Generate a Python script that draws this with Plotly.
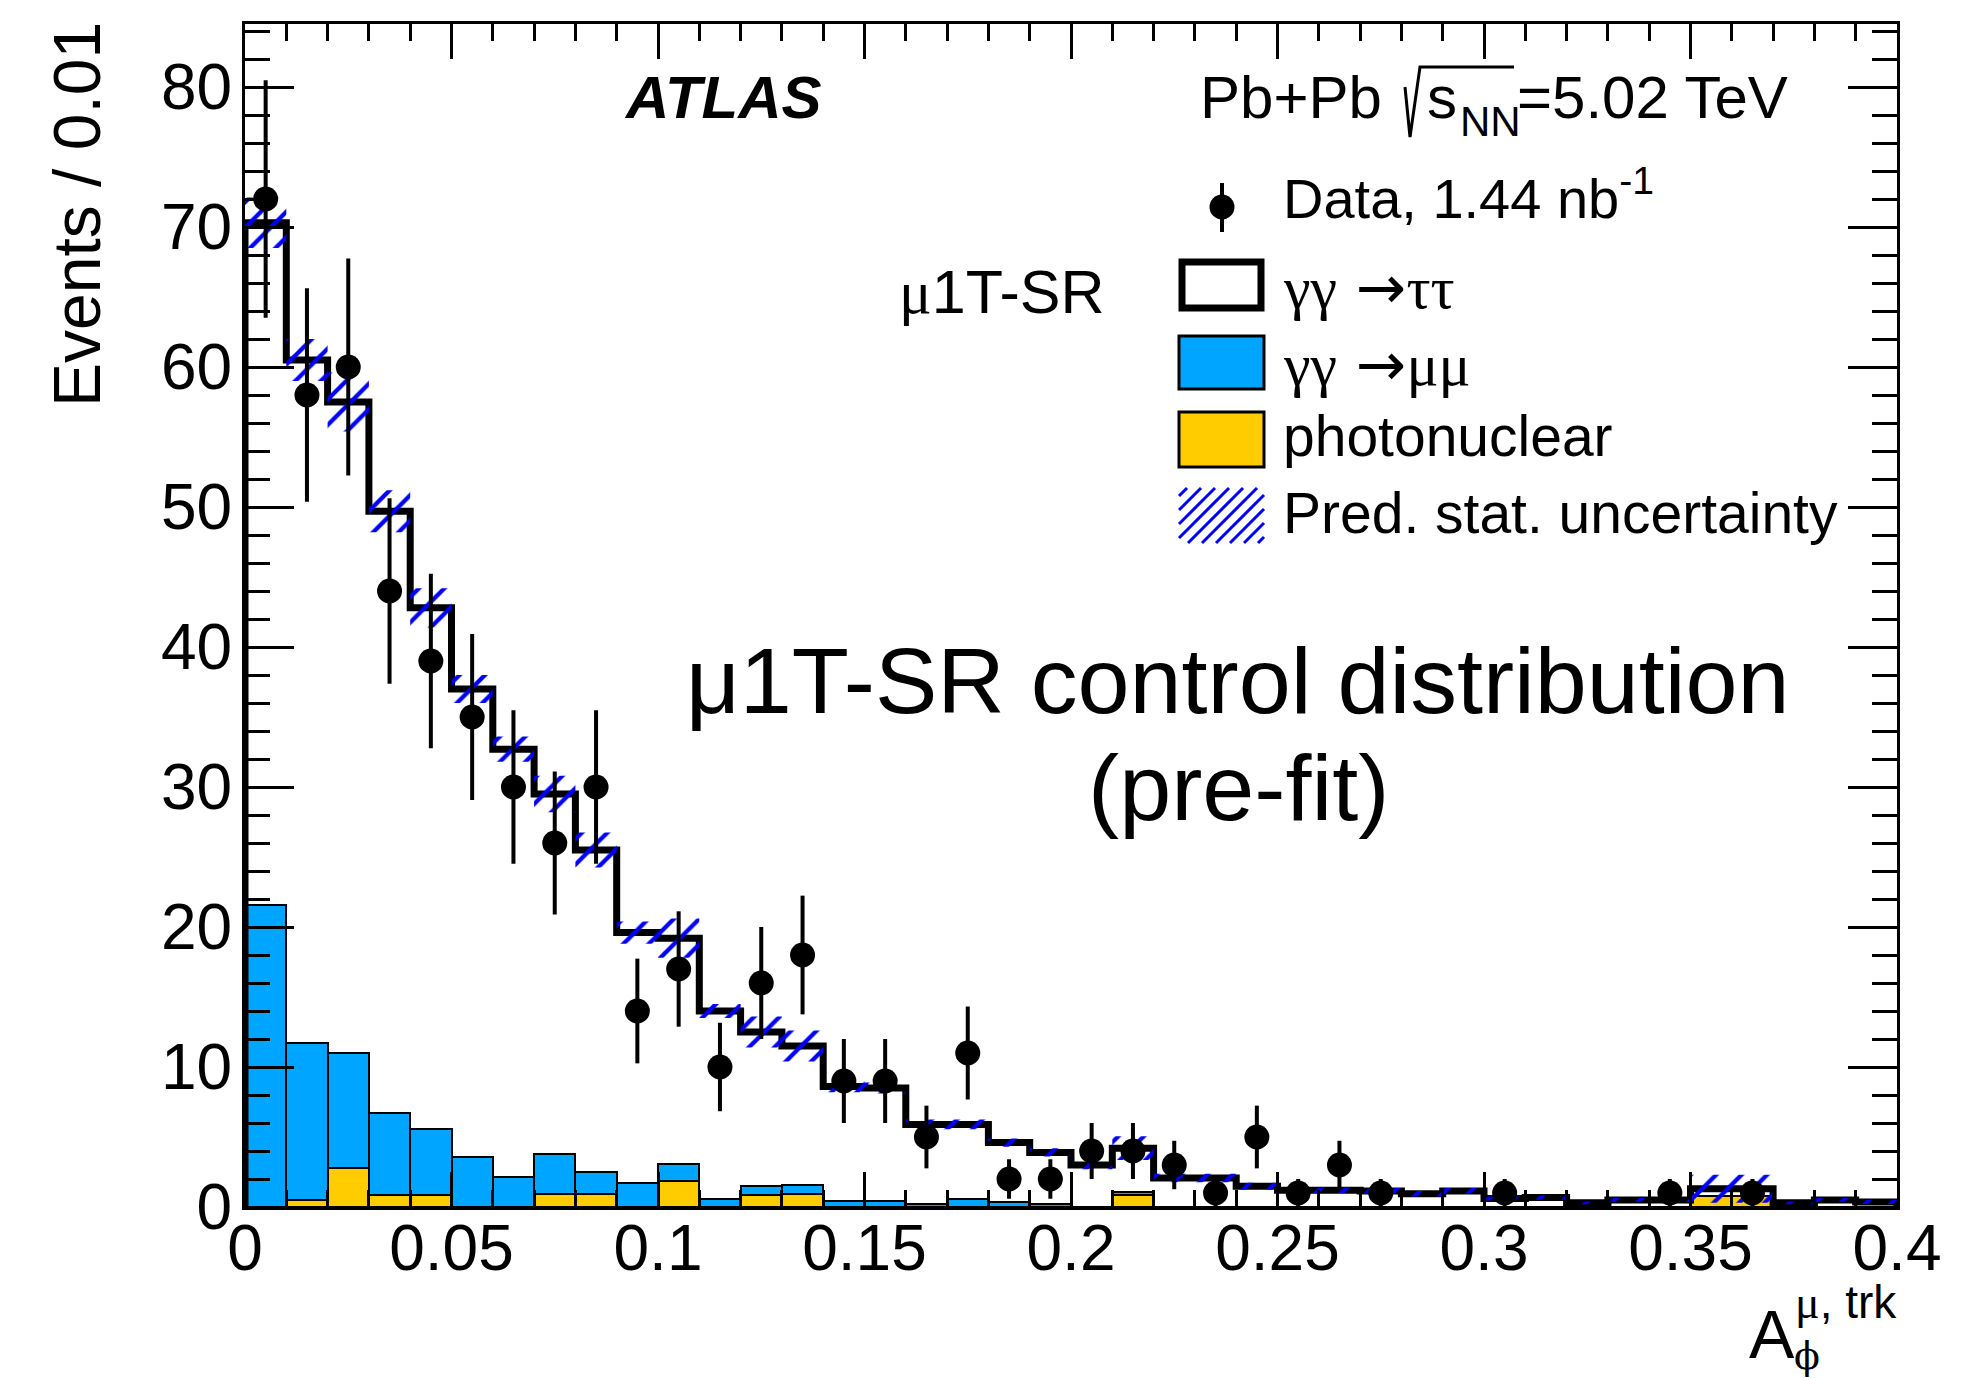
import plotly.graph_objects as go

# ---------------- data ----------------
bin_low = [0.00, 0.01, 0.02, 0.03, 0.04, 0.05, 0.06, 0.07, 0.08, 0.09,
           0.10, 0.11, 0.12, 0.13, 0.14, 0.15, 0.16, 0.17, 0.18, 0.19,
           0.20, 0.21, 0.22, 0.23, 0.24, 0.25, 0.26, 0.27, 0.28, 0.29,
           0.30, 0.31, 0.32, 0.33, 0.34, 0.35, 0.36, 0.37, 0.38, 0.39]
bin_width = 0.01

data_counts = [72, 58, 60, 44, 39, 35, 30, 26, 30, 14,
               17, 10, 16, 18, 9, 9, 5, 11, 2, 2,
               4, 4, 3, 1, 5, 1, 3, 1, 0, 0,
               1, 0, 0, 0, 1, 0, 1, 0, 0, 0]
data_err = [8.49, 7.62, 7.75, 6.63, 6.24, 5.92, 5.48, 5.10, 5.48, 3.74,
            4.12, 3.16, 4.00, 4.24, 3.00, 3.00, 2.24, 3.32, 1.41, 1.41,
            2.00, 2.00, 1.73, 1.00, 2.24, 1.00, 1.73, 1.00, 0.0, 0.0,
            1.00, 0.0, 0.0, 0.0, 1.00, 0.0, 1.00, 0.0, 0.0, 0.0]

photonuclear = [0.0, 0.5, 2.8, 0.88, 0.88, 0.0, 0.0, 0.92, 0.92, 0.0,
                1.88, 0.0, 0.88, 0.92, 0.0, 0.0, 0.0, 0.0, 0.0, 0.0,
                0.0, 0.88, 0.0, 0.0, 0.0, 0.0, 0.0, 0.0, 0.0, 0.0,
                0.0, 0.0, 0.0, 0.0, 0.0, 0.76, 0.76, 0.0, 0.0, 0.0]
mumu = [21.6, 11.2, 8.2, 5.82, 4.72, 3.6, 2.15, 2.88, 1.58, 1.7,
        1.22, 0.6, 0.62, 0.68, 0.41, 0.41, 0.19, 0.6, 0.36, 0.19,
        0.0, 0.2, 0.0, 0.0, 0.0, 0.0, 0.0, 0.0, 0.0, 0.0,
        0.0, 0.0, 0.0, 0.0, 0.0, 0.0, 0.0, 0.0, 0.0, 0.0]
tautau = [48.7, 48.8, 46.5, 43.0, 37.2, 33.4, 30.55, 25.7, 23.0, 17.9,
          16.1, 13.4, 11.0, 9.9, 8.19, 8.09, 5.71, 5.3, 4.24, 3.71,
          3.0, 3.12, 2.07, 2.07, 1.48, 1.2, 1.2, 1.15, 0.95, 1.15,
          0.6, 0.67, 0.3, 0.5, 0.5, 0.54, 0.54, 0.3, 0.5, 0.36]
stat_unc = [1.8, 1.5, 2.1, 1.5, 1.4, 1.0, 0.9, 1.3, 1.25, 0.8,
            1.4, 0.5, 1.1, 1.1, 0.4, 0.4, 0.35, 0.35, 0.3, 0.3,
            0.3, 0.85, 0.3, 0.3, 0.25, 0.2, 0.2, 0.2, 0.2, 0.2,
            0.15, 0.15, 0.1, 0.15, 0.15, 1.0, 1.0, 0.1, 0.15, 0.15]

xtick_vals = [0, 0.05, 0.1, 0.15, 0.2, 0.25, 0.3, 0.35, 0.4]
xtick_text = ["0", "0.05", "0.1", "0.15", "0.2", "0.25", "0.3", "0.35", "0.4"]
ytick_vals = [0, 10, 20, 30, 40, 50, 60, 70, 80]
ytick_text = ["0", "10", "20", "30", "40", "50", "60", "70", "80"]

# ---------------- geometry ----------------
W, H = 1988, 1378
L, R, T, B = 245, 1897, 24, 1207

def px(x):
    return (x - L) / (R - L)

def py(y):
    return (B - y) / (B - T)

FONT = "Liberation Sans, Arial, Helvetica, sans-serif"
SERIF = "Liberation Serif, DejaVu Serif, serif"
BLUE = "#00a5ff"
YELLOW = "#ffcc00"

centers = [lo + bin_width / 2 for lo in bin_low]
blue_top = [a + b for a, b in zip(photonuclear, mumu)]
total = [a + b for a, b in zip(blue_top, tautau)]

fig = go.Figure()

# stacked backgrounds
fig.add_trace(go.Bar(x=centers, y=photonuclear, width=bin_width,
                     marker=dict(color=YELLOW, line=dict(color="black", width=2)),
                     showlegend=False, hoverinfo="skip"))
fig.add_trace(go.Bar(x=centers, y=mumu, base=photonuclear, width=bin_width,
                     marker=dict(color=BLUE, line=dict(color="black", width=2)),
                     showlegend=False, hoverinfo="skip"))

# total (tautau on top of the stack) outline
step_x = [bin_low[0]] + bin_low + [bin_low[-1] + bin_width, bin_low[-1] + bin_width]
step_y = [0] + total + [total[-1], 0]
fig.add_trace(go.Scatter(x=step_x, y=step_y, mode="lines",
                         line=dict(color="black", width=7, shape="hv"),
                         showlegend=False, hoverinfo="skip"))

# hatched stat. uncertainty band
hx, hy = [], []
for lo, t, u in zip(bin_low, total, stat_unc):
    hi = lo + bin_width
    hx += [lo, hi, hi, lo, lo, None]
    hy += [t - u, t - u, t + u, t + u, t - u, None]
fig.add_trace(go.Scatter(x=hx, y=hy, mode="lines", fill="toself",
                         fillcolor="rgba(0,0,0,0)",
                         fillpattern=dict(shape="/", fgcolor="#0000ff", fgopacity=1,
                                          bgcolor="rgba(0,0,0,0)",
                                          size=18, solidity=0.24),
                         line=dict(width=0), showlegend=False, hoverinfo="skip"))

# data points
dx = [c for c, n in zip(centers, data_counts) if n > 0]
dy = [n for n in data_counts if n > 0]
de = [e for e, n in zip(data_err, data_counts) if n > 0]
fig.add_trace(go.Scatter(x=dx, y=dy, mode="markers",
                         marker=dict(color="black", size=25, symbol="circle"),
                         error_y=dict(type="data", array=de, visible=True,
                                      color="black", thickness=4, width=0),
                         showlegend=False, hoverinfo="skip"))

# ---------------- decorations (legend, labels) ----------------
shapes = []
annotations = []

def text(s, x, y, size, xanchor="left", font=FONT, angle=0, color="black"):
    annotations.append(dict(text=s, x=px(x), y=py(y), xref="paper", yref="paper",
                            xanchor=xanchor, yanchor="middle", showarrow=False,
                            textangle=angle,
                            font=dict(family=font, size=size, color=color)))

# legend swatches
bx0, bx1 = 1179, 1264
# data marker
shapes.append(dict(type="line", xref="paper", yref="paper",
                   x0=px(1222), x1=px(1222), y0=py(183), y1=py(232),
                   line=dict(color="black", width=4)))
shapes.append(dict(type="circle", xref="paper", yref="paper",
                   x0=px(1209.5), x1=px(1234.5), y0=py(219.5), y1=py(194.5),
                   fillcolor="black", line=dict(color="black", width=0)))
# tautau
shapes.append(dict(type="rect", xref="paper", yref="paper",
                   x0=px(bx0 + 3), x1=px(bx1 - 3), y0=py(259 + 3), y1=py(311 - 3),
                   fillcolor="white", line=dict(color="black", width=7)))
# mumu
shapes.append(dict(type="rect", xref="paper", yref="paper",
                   x0=px(bx0), x1=px(bx1), y0=py(336), y1=py(389),
                   fillcolor=BLUE, line=dict(color="black", width=3)))
# photonuclear
shapes.append(dict(type="rect", xref="paper", yref="paper",
                   x0=px(bx0), x1=px(bx1), y0=py(412), y1=py(467),
                   fillcolor=YELLOW, line=dict(color="black", width=3)))
# hatch swatch
hy0, hy1 = 488, 543
c = bx0 + hy0 + 8
while c < bx1 + hy1:
    xa = max(bx0, c - hy1)
    xb = min(bx1, c - hy0)
    if xb > xa:
        shapes.append(dict(type="line", xref="paper", yref="paper",
                           x0=px(xa), y0=py(c - xa), x1=px(xb), y1=py(c - xb),
                           line=dict(color="#0000ff", width=3)))
    c += 14

# sqrt sign
shapes.append(dict(type="path", xref="paper", yref="paper",
                   path=f"M {px(1405)},{py(87)} L {px(1410)},{py(137)} "
                        f"L {px(1420)},{py(67)} L {px(1514)},{py(67)}",
                   line=dict(color="black", width=3)))

text("<b><i>ATLAS</i></b>", 622, 97, 60)
text("Pb+Pb", 1198, 97, 60)
text("s", 1425, 97, 60)
text("NN", 1458, 122, 42)
text("=5.02 TeV", 1515, 97, 60)

ARROW = '<span style="font-family:DejaVu Sans"> →</span>'
text("Data, 1.44 nb<sup>-1</sup>", 1281, 194, 56)
text(f"γγ{ARROW}ττ", 1281, 287, 60, font=SERIF)
text(f"γγ{ARROW}μμ", 1281, 364, 60, font=SERIF)
text("photonuclear", 1281, 436, 57)
text("Pred. stat. uncertainty", 1281, 513, 57)

text(f'<span style="font-family:{SERIF}">μ</span>1T-SR', 897, 292, 61)

text("μ1T-SR control distribution", 1238, 680, 93.5, xanchor="center")
text("(pre-fit)", 1238, 787, 93.5, xanchor="center")

text("Events / 0.01", 77, 215, 66, xanchor="center", angle=-90)

text("A", 1747, 1334, 68)
text(f'<span style="font-family:{SERIF}">μ</span>, trk', 1793, 1302, 46)
text("ϕ", 1792, 1356, 38, font="DejaVu Serif, Liberation Serif, serif")

axis_common = dict(showline=True, linewidth=3, linecolor="black", mirror="allticks",
                   ticks="inside", tickwidth=3, tickcolor="black",
                   showgrid=False, zeroline=False,
                   tickfont=dict(family=FONT, size=64, color="black"))

fig.update_layout(
    width=W, height=H,
    margin=dict(l=L, r=W - R, t=T, b=H - B, pad=0),
    paper_bgcolor="white", plot_bgcolor="white",
    barmode="overlay", bargap=0,
    showlegend=False,
    xaxis=dict(range=[0, 0.4], tickmode="array", tickvals=xtick_vals, ticktext=xtick_text,
               ticklen=35, ticklabelstandoff=-17,
               minor=dict(ticks="inside", ticklen=17, tickwidth=3, tickcolor="black",
                          tickmode="linear", tick0=0, dtick=0.01, showgrid=False),
               **axis_common),
    yaxis=dict(range=[0, 84.5], tickmode="array", tickvals=ytick_vals, ticktext=ytick_text,
               ticklen=49, ticklabelstandoff=-3,
               minor=dict(ticks="inside", ticklen=25, tickwidth=3, tickcolor="black",
                          tickmode="linear", tick0=0, dtick=2, showgrid=False),
               **axis_common),
    shapes=shapes,
    annotations=annotations,
)

fig.write_html("out.html")
